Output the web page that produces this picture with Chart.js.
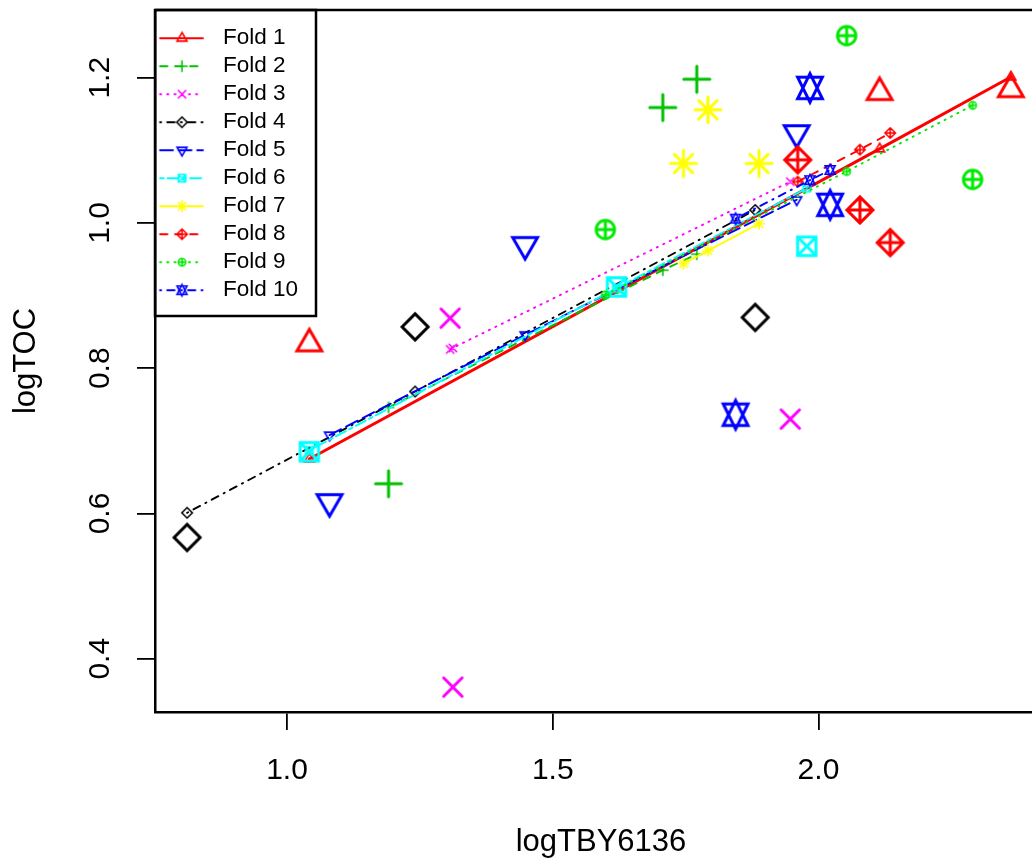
<!DOCTYPE html>
<html>
<head>
<meta charset="utf-8">
<script src="https://cdn.jsdelivr.net/npm/chart.js@4.4.1/dist/chart.umd.min.js"></script>
<style>
html, body { margin: 0; padding: 0; background: #fff; overflow: hidden; width: 1032px; height: 862px; }
#wrap { position: absolute; left: 0; top: 0; width: 1060px; height: 862px; }
canvas { display: block; }
</style>
</head>
<body>
<div id="wrap"><canvas id="c" width="1060" height="862"></canvas></div>
<script>
// ---------- data ----------
const foldLabels = ['Fold 1', 'Fold 2', 'Fold 3', 'Fold 4', 'Fold 5', 'Fold 6', 'Fold 7', 'Fold 8', 'Fold 9', 'Fold 10'];
const foldColors = ['#FF0000', '#00C000', '#FF00FF', '#000000', '#0000FF', '#00FFFF', '#FFFF00', '#FF0000', '#00EA00', '#0000FF'];
const foldPch = [2, 3, 4, 5, 6, 7, 8, 9, 10, 11];
const foldDash = [[], [7.5, 7.5], [1.2, 6], [1.2, 6, 7.5, 6], [13, 5.6], [3.75, 3.75, 11.25, 3.75], [], [7.5, 7.5], [1.2, 6], [1.2, 6, 7.5, 6]];

// x (logTBY6136) of the points held out in each fold
const foldX = [
  [1.042, 2.115, 2.362],
  [1.191, 1.707, 1.771],
  [1.307, 1.312, 1.947],
  [0.812, 1.241, 1.881],
  [1.080, 1.448, 1.959],
  [1.042, 1.620, 1.978],
  [1.746, 1.792, 1.888],
  [1.961, 2.078, 2.135],
  [1.599, 2.053, 2.290],
  [1.844, 1.984, 2.022]
];
// observed logTOC (large symbols)
const foldObserved = [
  [0.834, 1.180, 1.184],
  [0.641, 1.159, 1.198],
  [0.869, 0.361, 0.730],
  [0.567, 0.857, 0.870],
  [0.616, 0.970, 1.124],
  [0.685, 0.912, 0.968],
  [1.082, 1.156, 1.082],
  [1.087, 1.018, 0.973],
  [0.991, 1.258, 1.060],
  [0.736, 1.186, 1.025]
];
// fold-fit predictions (small symbols joined by lines)
const foldFitted = [
  [0.675, 1.102, 1.201],
  [0.746, 0.935, 0.957],
  [0.826, 0.828, 1.057],
  [0.601, 0.768, 1.018],
  [0.708, 0.846, 1.032],
  [0.687, 0.910, 1.048],
  [0.944, 0.962, 0.999],
  [1.057, 1.101, 1.124],
  [0.901, 1.071, 1.162],
  [1.006, 1.059, 1.073]
];
const xTickValues = [1.0, 1.5, 2.0];
const yTickValues = [0.4, 0.6, 0.8, 1.0, 1.2];
const xLimits = [0.7516, 2.43];
const yLimits = [0.3267, 1.2933];
const xTitle = 'logTBY6136';
const yTitle = 'logTOC';

// ---------- R-like plotting symbols ----------
const TRC0 = 1.5551203015562142, TRC1 = 1.3467736870885984, TRC2 = 0.7775601507781071;
function tracePch(ctx, pch, x, y, R) {
  const s2 = Math.SQRT2;
  switch (pch) {
    case 2: { const r = TRC0 * R, yc = TRC2 * R, xc = TRC1 * R;
      ctx.moveTo(x, y - r); ctx.lineTo(x + xc, y + yc); ctx.lineTo(x - xc, y + yc); ctx.closePath(); break; }
    case 6: { const r = TRC0 * R, yc = TRC2 * R, xc = TRC1 * R;
      ctx.moveTo(x, y + r); ctx.lineTo(x + xc, y - yc); ctx.lineTo(x - xc, y - yc); ctx.closePath(); break; }
    case 3: { const c = s2 * R;
      ctx.moveTo(x - c, y); ctx.lineTo(x + c, y); ctx.moveTo(x, y - c); ctx.lineTo(x, y + c); break; }
    case 4: {
      ctx.moveTo(x - R, y - R); ctx.lineTo(x + R, y + R); ctx.moveTo(x - R, y + R); ctx.lineTo(x + R, y - R); break; }
    case 5: { const c = s2 * R;
      ctx.moveTo(x - c, y); ctx.lineTo(x, y - c); ctx.lineTo(x + c, y); ctx.lineTo(x, y + c); ctx.closePath(); break; }
    case 7: {
      ctx.rect(x - R, y - R, 2 * R, 2 * R);
      ctx.moveTo(x - R, y - R); ctx.lineTo(x + R, y + R); ctx.moveTo(x - R, y + R); ctx.lineTo(x + R, y - R); break; }
    case 8: { const c = s2 * R;
      ctx.moveTo(x - R, y - R); ctx.lineTo(x + R, y + R); ctx.moveTo(x - R, y + R); ctx.lineTo(x + R, y - R);
      ctx.moveTo(x - c, y); ctx.lineTo(x + c, y); ctx.moveTo(x, y - c); ctx.lineTo(x, y + c); break; }
    case 9: { const c = s2 * R;
      ctx.moveTo(x - c, y); ctx.lineTo(x, y - c); ctx.lineTo(x + c, y); ctx.lineTo(x, y + c); ctx.closePath();
      ctx.moveTo(x - c, y); ctx.lineTo(x + c, y); ctx.moveTo(x, y - c); ctx.lineTo(x, y + c); break; }
    case 10: {
      ctx.moveTo(x + R, y); ctx.arc(x, y, R, 0, 2 * Math.PI);
      ctx.moveTo(x - R, y); ctx.lineTo(x + R, y); ctx.moveTo(x, y - R); ctx.lineTo(x, y + R); break; }
    case 11: { const r = TRC0 * R, yc = 0.5 * (TRC2 * R + r), xc = TRC1 * R;
      ctx.moveTo(x, y - r); ctx.lineTo(x + xc, y + yc); ctx.lineTo(x - xc, y + yc); ctx.closePath();
      ctx.moveTo(x, y + r); ctx.lineTo(x + xc, y - yc); ctx.lineTo(x - xc, y - yc); ctx.closePath(); break; }
  }
}
function strokePch(ctx, pch, x, y, R, color, lw) {
  ctx.save();
  ctx.strokeStyle = color; ctx.lineWidth = lw; ctx.lineJoin = 'miter'; ctx.lineCap = 'round';
  ctx.beginPath(); tracePch(ctx, pch, x, y, R); ctx.stroke();
  ctx.restore();
}
function symbolCanvas(pch, R, color, lw) {
  const half = Math.ceil(1.6 * R + lw + 2);
  const cv = document.createElement('canvas');
  cv.width = 2 * half; cv.height = 2 * half;
  strokePch(cv.getContext('2d'), pch, half, half, R, color, lw);
  return cv;
}
function legendCanvas(pch, color, dash) {
  const cv = document.createElement('canvas');
  cv.width = 54; cv.height = 16;
  const ctx = cv.getContext('2d');
  ctx.strokeStyle = color; ctx.lineWidth = 1.8; ctx.lineCap = 'round';
  ctx.setLineDash(dash);
  ctx.beginPath(); ctx.moveTo(2.25, 8); ctx.lineTo(45.25, 8); ctx.stroke();
  ctx.setLineDash([]);
  strokePch(ctx, pch, 24.25, 8, 3.7, color, 1.6);
  return cv;
}

const R_BIG = 9.2, LW_BIG = 3, R_SMALL = 3.7, LW_SMALL = 1.6;
const bigIcons = foldPch.map((p, i) => symbolCanvas(p, R_BIG, foldColors[i], LW_BIG));
const smallIcons = foldPch.map((p, i) => symbolCanvas(p, R_SMALL, foldColors[i], LW_SMALL));
const legendIcons = foldPch.map((p, i) => legendCanvas(p, foldColors[i], foldDash[i]));

// ---------- datasets ----------
const datasets = [];
foldLabels.forEach((lab, i) => {
  datasets.push({
    label: lab + ' observed',
    data: foldX[i].map((x, j) => ({ x: x, y: foldObserved[i][j] })),
    showLine: false,
    pointStyle: bigIcons[i],
    pointRadius: 8,
    order: 100 - 2 * i
  });
  datasets.push({
    label: lab,
    data: foldX[i].map((x, j) => ({ x: x, y: foldFitted[i][j] })),
    showLine: true,
    borderColor: foldColors[i],
    borderWidth: i === 0 ? 3 : 1.9,
    borderDash: foldDash[i],
    borderCapStyle: 'round',
    pointStyle: smallIcons[i],
    pointRadius: 4,
    order: 99 - 2 * i
  });
});

// ---------- frame / legend placement plugin ----------
const frame = {
  id: 'frame',
  afterLayout(chart) {
    const a = chart.chartArea, lg = chart.legend;
    if (lg) {
      lg.left = a.left - 2.75; lg.top = a.top + 11.5;
      lg.right = lg.left + 170; lg.bottom = lg.top + 400;
      lg.width = 170; lg.height = 400;
    }
  },
  afterDraw(chart) {
    const a = chart.chartArea, ctx = chart.ctx;
    ctx.save();
    ctx.strokeStyle = '#000'; ctx.lineWidth = 2.5;
    ctx.beginPath();
    ctx.moveTo(a.left, a.top); ctx.lineTo(a.right, a.top); ctx.lineTo(a.right, a.bottom);
    ctx.stroke();
    ctx.strokeRect(a.left, a.top, 161, 306);
    ctx.restore();
  }
};

Chart.defaults.font.family = "'Liberation Sans', Arial, Helvetica, sans-serif";
Chart.defaults.color = '#000';

new Chart(document.getElementById('c'), {
  type: 'scatter',
  data: { datasets: datasets },
  plugins: [frame],
  options: {
    responsive: false,
    devicePixelRatio: 1,
    animation: false,
    events: [],
    layout: { padding: { left: 0, top: 10, right: 13, bottom: 0 } },
    plugins: {
      tooltip: { enabled: false },
      legend: {
        display: true,
        position: 'chartArea',
        align: 'start',
        labels: {
          usePointStyle: true,
          pointStyleWidth: 54,
          padding: 5.5,
          color: '#000',
          font: { size: 22.5 },
          generateLabels: () => foldLabels.map((t, i) => ({
            text: t,
            pointStyle: legendIcons[i],
            fillStyle: 'rgba(0,0,0,0)',
            strokeStyle: 'rgba(0,0,0,0)',
            fontColor: '#000',
            lineWidth: 0,
            hidden: false,
            datasetIndex: 2 * i + 1
          }))
        }
      }
    },
    scales: {
      x: {
        type: 'linear',
        min: xLimits[0], max: xLimits[1],
        afterBuildTicks: (s) => { s.ticks = xTickValues.map(v => ({ value: v })); },
        afterFit: (s) => { s.height = 150; s.paddingLeft = 0; s.paddingRight = 0; },
        ticks: {
          autoSkip: false, maxRotation: 0, minRotation: 0,
          padding: 22.7, color: '#000',
          font: { size: 30 },
          callback: (v) => Number(v).toFixed(1)
        },
        grid: { display: true, drawOnChartArea: false, drawTicks: true, tickLength: 18, color: '#000', lineWidth: 1.8 },
        border: { display: true, color: '#000', width: 2.5 },
        title: { display: true, text: xTitle, color: '#000', font: { size: 31 }, padding: { top: 0, bottom: 1 } }
      },
      y: {
        type: 'linear',
        min: yLimits[0], max: yLimits[1],
        afterBuildTicks: (s) => { s.ticks = yTickValues.map(v => ({ value: v })); },
        afterFit: (s) => { s.width = 155; s.paddingTop = 0; s.paddingBottom = 0; },
        ticks: {
          autoSkip: false, minRotation: 90, maxRotation: 90, crossAlign: 'center',
          padding: 15.4, color: '#000',
          font: { size: 30 },
          callback: (v) => Number(v).toFixed(1)
        },
        grid: { display: true, drawOnChartArea: false, drawTicks: true, tickLength: 18, color: '#000', lineWidth: 1.8 },
        border: { display: true, color: '#000', width: 2.5 },
        title: { display: true, text: yTitle, color: '#000', font: { size: 31 }, padding: { top: 7.5, bottom: 0 } }
      }
    }
  }
});
</script>
</body>
</html>
